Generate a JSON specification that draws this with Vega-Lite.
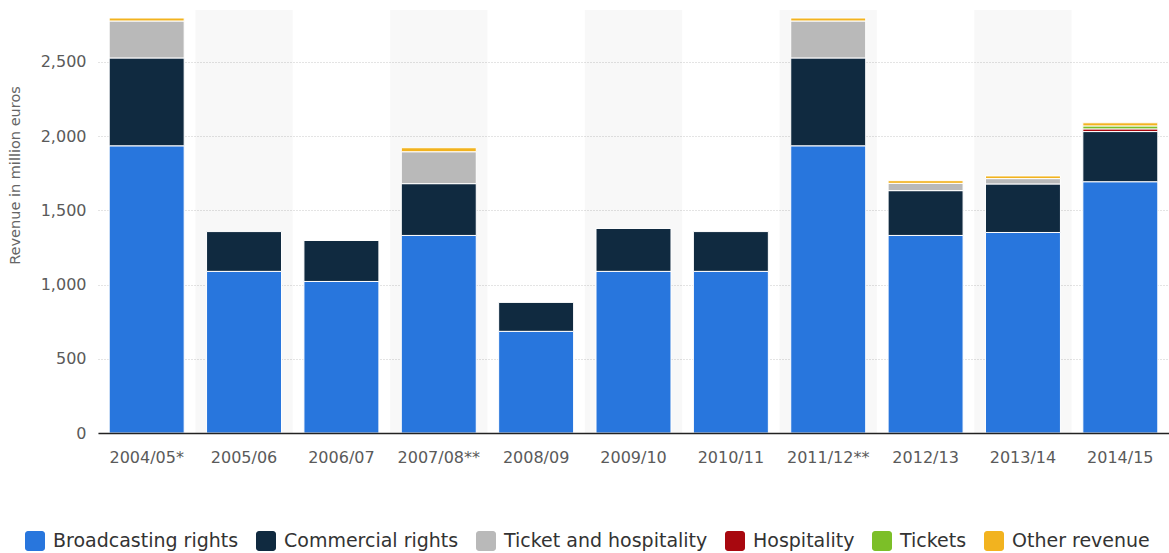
{
  "$schema": "https://vega.github.io/schema/vega-lite/v6.json",
  "width": 1071,
  "height": 423,
  "autosize": {"type": "none"},
  "padding": {"left": 98, "top": 10, "right": 0, "bottom": 120},
  "background": "white",
  "config": {
    "view": {"stroke": null},
    "font": "DejaVu Sans"
  },
  "datasets": {
    "bands": [
      {"year": "2005/06"}, {"year": "2007/08**"}, {"year": "2009/10"}, {"year": "2011/12**"}, {"year": "2013/14"}
    ],
    "types": [
      {"type": "Broadcasting rights", "rank": 1},
      {"type": "Commercial rights", "rank": 2},
      {"type": "Ticket and hospitality", "rank": 3},
      {"type": "Hospitality", "rank": 4},
      {"type": "Tickets", "rank": 5},
      {"type": "Other revenue", "rank": 6}
    ],
    "rev": [
      {"year": "2004/05*", "type": "Broadcasting rights", "value": 1935},
      {"year": "2004/05*", "type": "Commercial rights", "value": 592},
      {"year": "2004/05*", "type": "Ticket and hospitality", "value": 249},
      {"year": "2004/05*", "type": "Other revenue", "value": 20},
      {"year": "2005/06", "type": "Broadcasting rights", "value": 1089},
      {"year": "2005/06", "type": "Commercial rights", "value": 268},
      {"year": "2006/07", "type": "Broadcasting rights", "value": 1021},
      {"year": "2006/07", "type": "Commercial rights", "value": 276},
      {"year": "2007/08**", "type": "Broadcasting rights", "value": 1331},
      {"year": "2007/08**", "type": "Commercial rights", "value": 349},
      {"year": "2007/08**", "type": "Ticket and hospitality", "value": 215},
      {"year": "2007/08**", "type": "Other revenue", "value": 27},
      {"year": "2008/09", "type": "Broadcasting rights", "value": 685},
      {"year": "2008/09", "type": "Commercial rights", "value": 195},
      {"year": "2009/10", "type": "Broadcasting rights", "value": 1089},
      {"year": "2009/10", "type": "Commercial rights", "value": 289},
      {"year": "2010/11", "type": "Broadcasting rights", "value": 1089},
      {"year": "2010/11", "type": "Commercial rights", "value": 268},
      {"year": "2011/12**", "type": "Broadcasting rights", "value": 1935},
      {"year": "2011/12**", "type": "Commercial rights", "value": 592},
      {"year": "2011/12**", "type": "Ticket and hospitality", "value": 249},
      {"year": "2011/12**", "type": "Other revenue", "value": 20},
      {"year": "2012/13", "type": "Broadcasting rights", "value": 1331},
      {"year": "2012/13", "type": "Commercial rights", "value": 302},
      {"year": "2012/13", "type": "Ticket and hospitality", "value": 49},
      {"year": "2012/13", "type": "Other revenue", "value": 18},
      {"year": "2013/14", "type": "Broadcasting rights", "value": 1351},
      {"year": "2013/14", "type": "Commercial rights", "value": 327},
      {"year": "2013/14", "type": "Ticket and hospitality", "value": 36},
      {"year": "2013/14", "type": "Other revenue", "value": 18},
      {"year": "2014/15", "type": "Broadcasting rights", "value": 1693},
      {"year": "2014/15", "type": "Commercial rights", "value": 338},
      {"year": "2014/15", "type": "Hospitality", "value": 18},
      {"year": "2014/15", "type": "Tickets", "value": 20},
      {"year": "2014/15", "type": "Other revenue", "value": 21}
    ]
  },
  "layer": [
    {
      "data": {"name": "bands"},
      "mark": {"type": "rect", "color": "#000000", "opacity": 0.028},
      "encoding": {
        "x": {
          "field": "year", "type": "nominal",
          "scale": {"domain": ["2004/05*", "2005/06", "2006/07", "2007/08**", "2008/09", "2009/10", "2010/11", "2011/12**", "2012/13", "2013/14", "2014/15"], "paddingInner": 0, "paddingOuter": 0}
        }
      }
    },
    {
      "data": {"name": "rev"},
      "transform": [
        {"lookup": "type", "from": {"data": {"name": "types"}, "key": "type", "fields": ["rank"]}}
      ],
      "mark": {"type": "bar", "width": {"band": 0.77}, "stroke": "white", "strokeWidth": 1},
      "encoding": {
        "x": {
          "field": "year", "type": "nominal",
          "axis": {
            "title": null, "labelAngle": 0, "ticks": false, "domain": true,
            "bandPosition": 0.5, "labelAlign": "center",
            "domainColor": "#222222", "domainWidth": 1.5,
            "labelFontSize": 16, "labelColor": "#5a5a5a", "labelPadding": 24
          }
        },
        "y": {
          "field": "value", "type": "quantitative", "stack": "zero",
          "scale": {"domain": [0, 2850], "nice": false},
          "axis": {
            "title": "Revenue in million euros", "titleFontSize": 14.5, "titleFontWeight": "normal",
            "titleColor": "#666666", "titleX": -83, "titleY": 165, "titleAngle": -90,
            "titleAlign": "center", "titleBaseline": "middle",
            "values": [0, 500, 1000, 1500, 2000, 2500],
            "format": ",d",
            "labelFontSize": 16, "labelColor": "#5a5a5a", "labelPadding": 12,
            "ticks": false, "domain": false,
            "grid": true, "gridColor": "#c8c8c8", "gridDash": [1, 2], "gridWidth": 1
          }
        },
        "color": {
          "field": "type", "type": "nominal",
          "scale": {
            "domain": ["Broadcasting rights", "Commercial rights", "Ticket and hospitality", "Hospitality", "Tickets", "Other revenue"],
            "range": ["#2876dd", "#102a40", "#b9b9b9", "#a8080f", "#7cbf28", "#f2b31f"]
          },
          "legend": {
            "title": null, "orient": "none", "direction": "horizontal",
            "legendX": -73, "legendY": 521,
            "symbolType": "M -0.7,-1 H 0.7 A 0.3 0.3 0 0 1 1 -0.7 V 0.7 A 0.3 0.3 0 0 1 0.7 1 H -0.7 A 0.3 0.3 0 0 1 -1 0.7 V -0.7 A 0.3 0.3 0 0 1 -0.7 -1 Z",
            "symbolSize": 400, "symbolStrokeWidth": 0, "symbolOpacity": 1,
            "labelFontSize": 19, "labelColor": "#333333", "labelOffset": 8,
            "columnPadding": 17, "labelLimit": 300
          }
        },
        "order": {"field": "rank", "type": "quantitative", "sort": "ascending"}
      }
    }
  ]
}
